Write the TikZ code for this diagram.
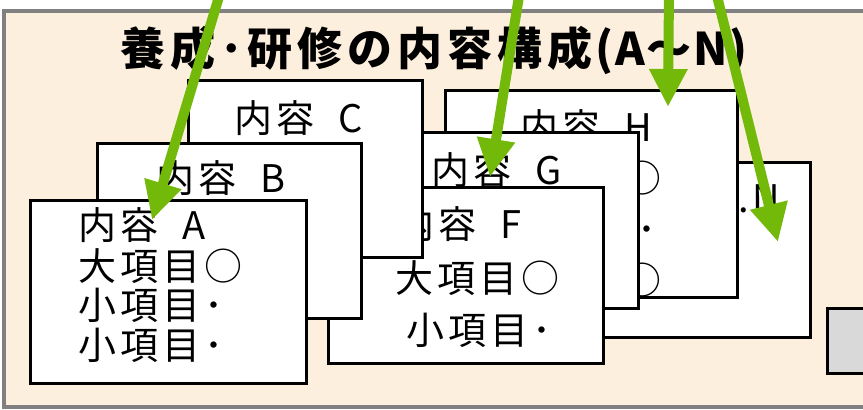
\documentclass[tikz,border=0pt]{standalone}
\usepackage{fontspec}
\usetikzlibrary{arrows.meta}
\newfontfamily\jp[LetterSpace=10.5]{Noto Sans CJK JP}
\newfontfamily\jpt[LetterSpace=11]{Noto Sans CJK JP}
\newfontfamily\jptl[LetterSpace=4]{Noto Sans CJK JP}
\definecolor{bgbeige}{RGB}{253,239,221}
\definecolor{bordergray}{RGB}{128,128,128}
\definecolor{arrgreen}{RGB}{115,185,10}
\definecolor{boxgray}{RGB}{217,217,217}
\newcommand\naiyou[1]{内容\hspace{24pt}#1}
\begin{document}
\begin{tikzpicture}[x=1pt,y=-1pt,
  card/.style={draw=black, line width=3pt, fill=white, rectangle, inner sep=0pt, outer sep=0pt},
  ln/.style={font=\jp\fontsize{38}{38}\selectfont, anchor=base west, inner sep=0pt, text=black},
  ttl/.style={font=\bfseries\fontsize{45}{45}\selectfont, anchor=base west, inner sep=0pt, text=black},
  arr/.style={draw=arrgreen, line width=10pt, -{Triangle[length=38pt,width=36pt]}}]
\useasboundingbox (0,0) rectangle (863,410);
\fill[white] (0,0) rectangle (863,410);
% background panel
\path[draw=bordergray, line width=4pt, fill=bgbeige] (3.5,11) rectangle (890,407);
% title
\node[ttl] (title) at (120,65.5) {{\jpt\bfseries 養成･研修の内容構成}{\jptl\bfseries\hspace{3pt}(A～N)}};
% small gray box at right
\node[card, fill=boxgray, minimum width=53pt, minimum height=65pt] (gbox) at (853.5,340.5) {};
% box N
\node[card, minimum width=275pt, minimum height=175pt] (boxN) at (672.5,249.5) {};
\node[ln] (tN) at (738,212) {.N};
% box H
\node[card, minimum width=292pt, minimum height=207pt] (boxH) at (591,193.5) {};
\node[ln] (tH1) at (520,141.5) {\naiyou{H}};
\node[ln] (tH2) at (497,192.5) {大項目○};
\node[ln] (tH3) at (511,243.5) {小項目･};
\node[ln] (tH4) at (497,294.5) {大項目○};
% box G
\node[card, minimum width=270pt, minimum height=176pt] (boxG) at (503,220) {};
\node[ln] (tG1) at (431,184.5) {\naiyou{G}};
% box F
\node[card, minimum width=275pt, minimum height=176pt] (boxF) at (465.5,275) {};
\node[ln] (tF1) at (396,238.5) {\naiyou{F}};
\node[ln] (tF2) at (395,292.5) {大項目○};
\node[ln] (tF3) at (406,344.5) {小項目･};
% box C
\node[card, minimum width=234pt, minimum height=177pt] (boxC) at (305,168.5) {};
\node[ln] (tC1) at (234,132.5) {\naiyou{C}};
% box B
\node[card, minimum width=264pt, minimum height=175pt] (boxB) at (229,230.5) {};
\node[ln] (tB1) at (156,192.5) {\naiyou{B}};
% box A
\node[card, minimum width=276pt, minimum height=183pt] (boxA) at (168,291.5) {};
\node[ln] (tA1) at (78,239.5) {\naiyou{A}};
\node[ln] (tA2) at (78,280.5) {大項目○};
\node[ln] (tA3) at (78,319.5) {小項目･};
\node[ln] (tA4) at (78,359.5) {小項目･};
% arrows
\coordinate (s1) at (221,-10);
\coordinate (e1) at (152,220);
\coordinate (s2) at (520,-10);
\coordinate (e2) at (490,177);
\coordinate (s3) at (669,-10);
\coordinate (e3) at (668,107);
\coordinate (s4) at (715.5,-10);
\coordinate (e4) at (778,242);
\draw[arr] (s1) -- (e1);
\draw[arr] (s2) -- (e2);
\draw[arr] (s3) -- (e3);
\draw[arr] (s4) -- (e4);
\end{tikzpicture}
\end{document}
